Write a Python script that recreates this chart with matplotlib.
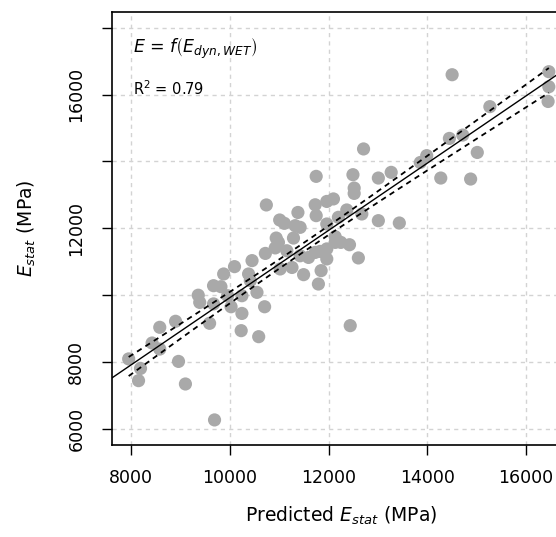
import numpy as np
import matplotlib
matplotlib.use("Agg")
import matplotlib.pyplot as plt

### Data (MPa)
predicted = [7950, 8190, 8150, 8425, 8580, 8580, 8900, 8960, 9100, 9690,
             9360, 9390, 9670, 9820, 9670, 9590, 9955, 10025, 10245, 10245,
             10230, 10585, 10550, 10705, 11750, 10740, 11010, 11105, 11380, 11730,
             11750, 11965, 12100, 11325, 11425, 10940, 10985, 11290, 10920, 10720,
             11155, 11425, 11595, 11730, 11965, 11965, 12135, 12135, 10450, 10095,
             9875, 11020, 11260, 11495, 11850, 11795, 10380, 10415, 12495, 13010,
             13270, 13860, 14275, 12520, 12520, 12370, 12675, 12200, 11965, 13010,
             13435, 12250, 12425, 11830, 12605, 12440, 14505, 16465, 16465, 16450,
             15270, 14450, 14720, 15015, 13990, 14880, 12710]
observed = [8095, 7810, 7445, 8570, 9040, 8390, 9220, 8020, 7345, 6270,
            10000, 9785, 10285, 10255, 9740, 9160, 9985, 9655, 9985, 9455,
            8940, 8760, 10085, 9655, 13555, 12700, 12250, 12150, 12475, 12705,
            12380, 12805, 12880, 12080, 12030, 11710, 11580, 11710, 11415, 11250,
            11330, 11180, 11130, 11280, 11085, 11385, 11580, 11750, 11035, 10855,
            10635, 10785, 10830, 10615, 10735, 10335, 10635, 10435, 13605, 13505,
            13675, 13970, 13505, 13205, 13045, 12550, 12430, 12330, 12130, 12230,
            12160, 11580, 11510, 11310, 11115, 9090, 16595, 16685, 16235, 15795,
            15640, 14690, 14790, 14270, 14175, 13475, 14375]

x_ticks = [8000, 10000, 12000, 14000, 16000]
y_ticks = [6000, 8000, 10000, 12000, 14000, 16000, 18000]
y_labels = ["6000", "8000", "", "12000", "", "16000", ""]

plt.rcParams['font.family'] = ['DejaVu Sans']
plt.rcParams['mathtext.fontset'] = 'dejavusans'

x = np.array(predicted, dtype=float)
y = np.array(observed, dtype=float)

### linear fit + confidence band of the mean (z ~ 80%)
z = 1.28
b, a = np.polyfit(x, y, 1)
n = len(x)
resid = y - (a + b * x)
s = np.sqrt(np.sum(resid ** 2) / (n - 2))
sxx = np.sum((x - x.mean()) ** 2)
xs = np.sort(x)
half = z * s * np.sqrt(1.0 / n + (xs - x.mean()) ** 2 / sxx)

fig = plt.figure(figsize=(5.56, 5.37), dpi=100)
ax = fig.add_axes([111.7 / 556, (537 - 445) / 537, (570 - 111.7) / 556, (445 - 11.7) / 537])

xlim = (7606, 16894)
ylim = (5520, 18480)
ax.set_xlim(xlim)
ax.set_ylim(ylim)

for t in x_ticks:
    ax.axvline(t, color="#d3d3d3", lw=1, ls=(0, (3, 3)), zorder=0)
for t in y_ticks:
    ax.axhline(t, color="#d3d3d3", lw=1, ls=(0, (3, 3)), zorder=0)

ax.scatter(x, y, s=90, color="#a9a9a9", edgecolors="none", zorder=2)

xl = np.array(xlim)
ax.plot(xl, a + b * xl, color="black", lw=1.0, zorder=3)
ax.plot(xs, a + b * xs + half, color="black", lw=1.3, ls=(0, (3, 2.5)), zorder=3)
ax.plot(xs, a + b * xs - half, color="black", lw=1.3, ls=(0, (3, 2.5)), zorder=3)

ax.set_xticks(x_ticks)
ax.set_yticks(y_ticks)
ax.set_yticklabels(y_labels, rotation=90, va="center")
ax.tick_params(axis="both", direction="out", length=7, width=1, labelsize=12.5)
ax.tick_params(axis="x", pad=10)
ax.tick_params(axis="y", pad=12)

for side in ["left", "top", "bottom", "right"]:
    ax.spines[side].set_linewidth(1.2)

ax.text(8030, 17380, r"$E$ = $f\left(E_{dyn,WET}\right)$", fontsize=12.5, va="center")
ax.text(8030, 16180, r"R$^2$ = 0.79", fontsize=10.5, va="center")

ax.set_xlabel(r"Predicted $E_{stat}$ (MPa)", fontsize=13.5, labelpad=13)
ax.set_ylabel(r"$E_{stat}$ (MPa)", fontsize=13.5, labelpad=21)

plt.savefig("out.png", dpi=100)
